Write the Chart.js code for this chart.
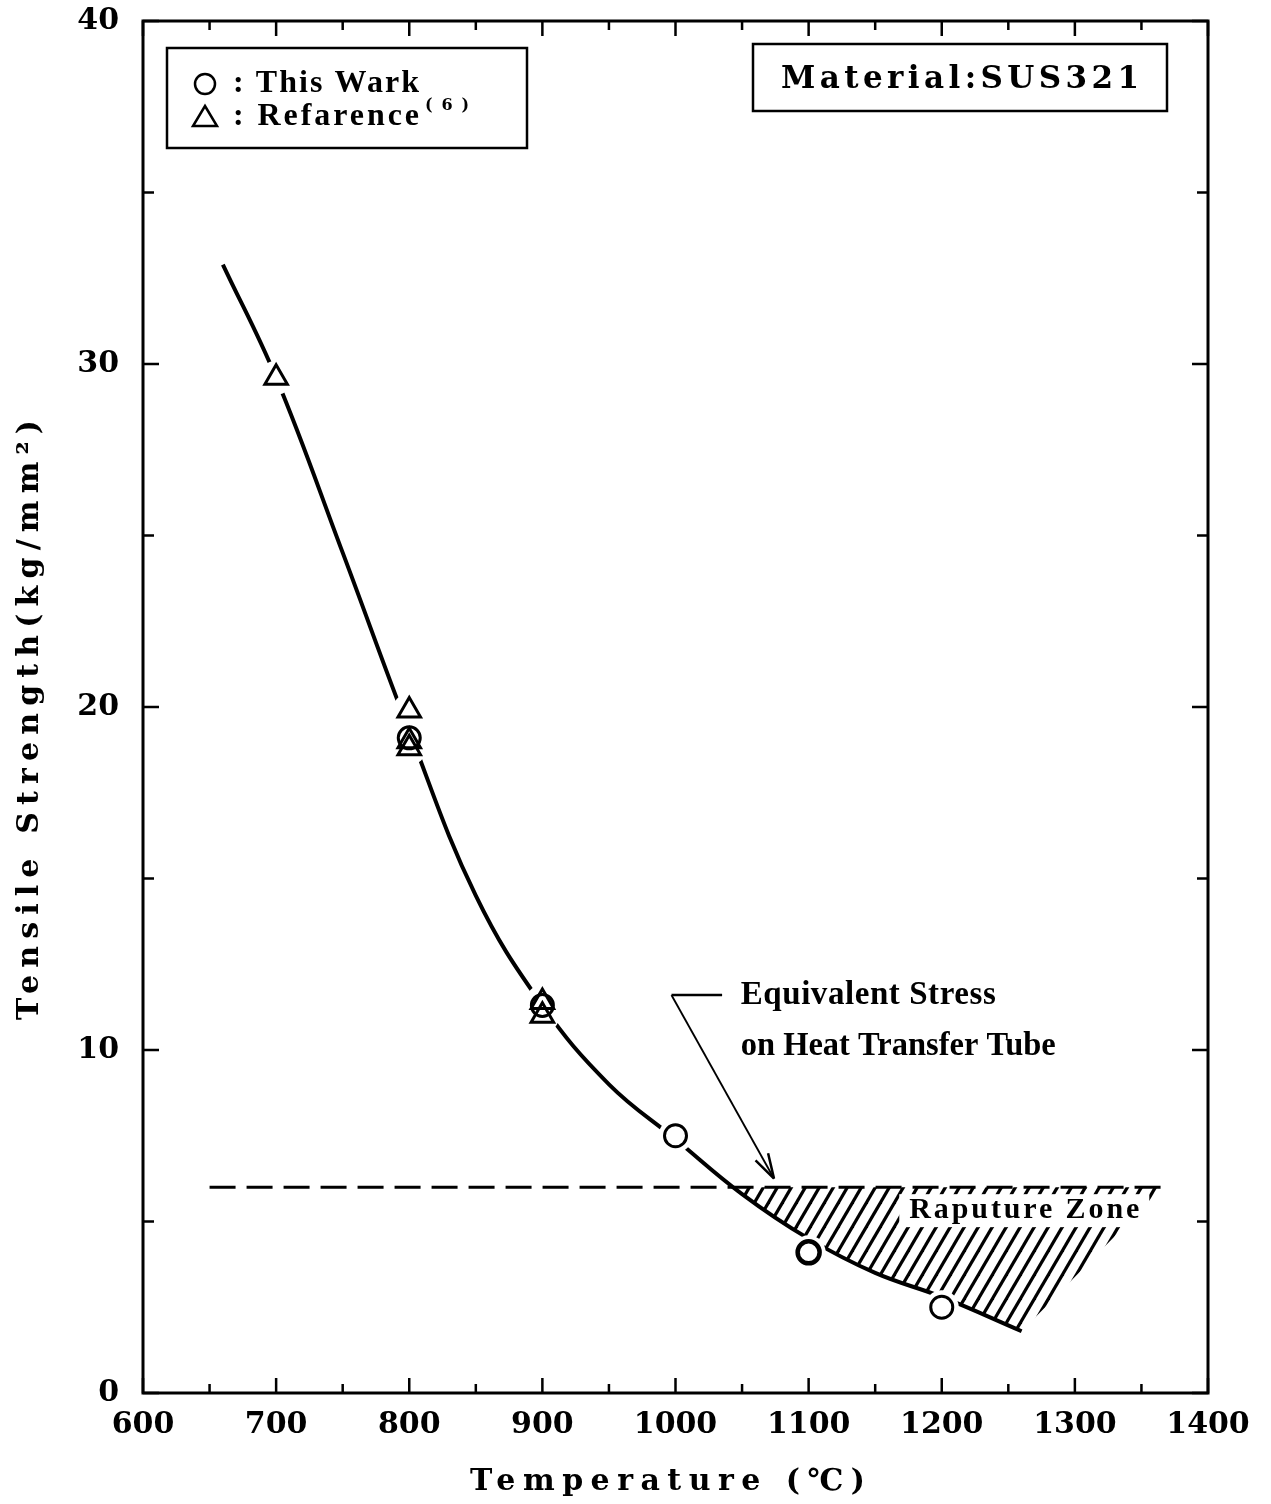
<!DOCTYPE html>
<html><head><meta charset="utf-8">
<script src="https://cdn.jsdelivr.net/npm/chart.js@4.4.1/dist/chart.umd.min.js"></script>
<style>html,body{margin:0;padding:0;background:#fff;}#wrap{width:1271px;height:1504px;}</style>
</head><body><div id="wrap"><canvas id="c" width="1271" height="1504"></canvas></div>
<script>
// ---- data ----
const thisWorkT = [800, 900, 1000, 1100, 1200];
const thisWorkS = [19.1, 11.3, 7.5, 4.1, 2.5];
const refT = [700, 800, 800, 800, 900, 900];
const refS = [29.6, 19.9, 19.0, 18.8, 11.4, 11.0];
const curveT = [660, 700, 750, 800, 850, 900, 950, 1000, 1050, 1100, 1150, 1200, 1260];
const curveS = [32.9, 29.6, 24.5, 19.3, 14.5, 11.3, 9.0, 7.4, 5.8, 4.5, 3.5, 2.8, 1.8];
const stressT = [650, 1366];
const stressS = [6.0, 6.0];
const zoneT = [1043, 1050, 1100, 1150, 1200, 1260, 1366, 1043];
const zoneS = [6.0, 5.8, 4.5, 3.5, 2.8, 1.8, 6.0, 6.0];
const xTickValues = [600, 700, 800, 900, 1000, 1100, 1200, 1300, 1400];
const xTickLabels = ['600', '700', '800', '900', '1000', '1100', '1200', '1300', '1400'];
const yTickValues = [0, 10, 20, 30, 40];
const yTickLabels = ['0', '10', '20', '30', '40'];
const seriesNames = ['This Wark', 'Refarence'];
const legendSup = '(6)';
const materialText = 'Material:SUS321';
const xTitle = 'Temperature (℃)';
const yTitle = 'Tensile Strength(kg/mm²)';
const noteLines = ['Equivalent Stress', 'on Heat Transfer Tube'];
const zoneLabel = 'Raputure Zone';
// annotation anchors (data units)
const leaderT = [1035, 997, 1074];
const leaderS = [11.6, 11.6, 6.25];
const noteT = [1049, 1049];
const noteS = [11.6, 10.1];
const zoneLabelT = 1262;
const zoneLabelS = 5.33;

const pts = (xs, ys) => xs.map((x, i) => ({x: x, y: ys[i]}));

function makeHatch() {
  const w = 14, h = 24;
  const c = document.createElement('canvas');
  c.width = w; c.height = h;
  const g = c.getContext('2d');
  g.strokeStyle = '#000'; g.lineWidth = 3.2; g.lineCap = 'butt';
  for (const dx of [-w, 0, w]) {
    g.beginPath();
    g.moveTo(dx - w, 2 * h); g.lineTo(dx + 2 * w, -h);
    g.stroke();
  }
  return document.getElementById('c').getContext('2d').createPattern(c, 'repeat');
}

function fitText(ctx, text, x, y, width, font, align) {
  ctx.save();
  ctx.font = font;
  ctx.textBaseline = 'middle';
  ctx.textAlign = 'left';
  const hasLS = ('letterSpacing' in ctx);
  if (hasLS) ctx.letterSpacing = '0px';
  const chars = [...text];
  const w = ctx.measureText(text).width;
  const ls = (width - w) / Math.max(1, chars.length - 1);
  const left = align === 'center' ? x - width / 2 : x;
  if (ls < 0) {
    ctx.fillText(text, left, y, width);
  } else if (hasLS) {
    ctx.letterSpacing = ls + 'px';
    ctx.fillText(text, left, y);
  } else {
    let cx = left;
    for (const ch of chars) { ctx.fillText(ch, cx, y); cx += ctx.measureText(ch).width + ls; }
  }
  ctx.restore();
}

const decor = {
  id: 'decor',
  afterDatasetsDraw(chart) {
    const ctx = chart.ctx, a = chart.chartArea, xs = chart.scales.x, ys = chart.scales.y;
    ctx.save();
    ctx.strokeStyle = '#000'; ctx.fillStyle = '#000'; ctx.lineCap = 'butt';
    // frame
    ctx.lineWidth = 3;
    ctx.strokeRect(a.left, a.top, a.right - a.left, a.bottom - a.top);
    // inward ticks
    ctx.lineWidth = 2.5;
    for (let t = xs.min; t <= xs.max; t += 50) {
      const px = xs.getPixelForValue(t);
      const len = (t % 100 === 0) ? 15 : 9;
      ctx.beginPath();
      ctx.moveTo(px, a.bottom); ctx.lineTo(px, a.bottom - len);
      ctx.moveTo(px, a.top); ctx.lineTo(px, a.top + len);
      ctx.stroke();
    }
    for (let v = ys.min; v <= ys.max; v += 5) {
      const py = ys.getPixelForValue(v);
      const len = (v % 10 === 0) ? 16 : 11;
      ctx.beginPath();
      ctx.moveTo(a.left, py); ctx.lineTo(a.left + len, py);
      ctx.moveTo(a.right, py); ctx.lineTo(a.right - len, py);
      ctx.stroke();
    }
    // legend box
    const lx = a.left + 24, ly = a.top + 27, lw = 360, lh = 100;
    ctx.fillStyle = '#fff';
    ctx.fillRect(lx, ly, lw, lh);
    ctx.fillStyle = '#000';
    ctx.lineWidth = 2.5;
    ctx.strokeRect(lx, ly, lw, lh);
    ctx.lineWidth = 2.5;
    ctx.beginPath(); ctx.arc(lx + 38, ly + 36, 10, 0, Math.PI * 2); ctx.stroke();
    ctx.beginPath();
    ctx.moveTo(lx + 38, ly + 58); ctx.lineTo(lx + 50, ly + 78); ctx.lineTo(lx + 26, ly + 78); ctx.closePath(); ctx.stroke();
    const lf = 'bold 32px "Liberation Serif"';
    fitText(ctx, ': ' + seriesNames[0], lx + 66, ly + 36, 186, lf, 'left');
    fitText(ctx, ': ' + seriesNames[1], lx + 66, ly + 69, 186, lf, 'left');
    fitText(ctx, legendSup, lx + 258, ly + 58, 44, 'bold 16px "DejaVu Serif"', 'left');
    // material box
    const mx = a.left + 610, my = a.top + 23, mw = 414, mh = 67;
    ctx.lineWidth = 2.5;
    ctx.strokeRect(mx, my, mw, mh);
    fitText(ctx, materialText, mx + 28, my + 36, 358, 'bold 31px "DejaVu Serif"', 'left');
    // leader + arrow
    const p = leaderT.map((t, i) => [xs.getPixelForValue(t), ys.getPixelForValue(leaderS[i])]);
    ctx.lineWidth = 2.5;
    ctx.beginPath();
    ctx.moveTo(p[0][0], p[0][1]); ctx.lineTo(p[1][0], p[1][1]);
    ctx.stroke();
    ctx.lineWidth = 2;
    ctx.beginPath();
    ctx.moveTo(p[1][0], p[1][1]); ctx.lineTo(p[2][0], p[2][1]);
    ctx.stroke();
    const ang = Math.atan2(p[2][1] - p[1][1], p[2][0] - p[1][0]);
    ctx.beginPath();
    for (const s of [-0.28, 0.28]) {
      ctx.moveTo(p[2][0], p[2][1]);
      ctx.lineTo(p[2][0] - 26 * Math.cos(ang + s), p[2][1] - 26 * Math.sin(ang + s));
    }
    ctx.lineWidth = 2.5;
    ctx.stroke();
    // notes
    const nf = 'bold 33px "Liberation Serif"';
    fitText(ctx, noteLines[0], xs.getPixelForValue(noteT[0]), ys.getPixelForValue(noteS[0]), 255, nf, 'left');
    fitText(ctx, noteLines[1], xs.getPixelForValue(noteT[1]), ys.getPixelForValue(noteS[1]), 315, nf, 'left');
    // zone label with white band
    const zx = xs.getPixelForValue(zoneLabelT), zy = ys.getPixelForValue(zoneLabelS);
    ctx.fillStyle = '#fff';
    ctx.fillRect(zx - 125, zy - 16, 250, 33);
    ctx.fillStyle = '#000';
    fitText(ctx, zoneLabel, zx, zy, 230, 'bold 30px "Liberation Serif"', 'center');
    // axis titles
    fitText(ctx, xTitle, (a.left + a.right) / 2 - 8, 1482, 395, 'bold 30px "DejaVu Serif"', 'center');
    ctx.save();
    ctx.translate(30, 720);
    ctx.rotate(-Math.PI / 2);
    fitText(ctx, yTitle, 0, 0, 600, 'bold 30px "DejaVu Serif"', 'center');
    ctx.restore();
    ctx.restore();
  }
};

const haloT = thisWorkT.concat(refT);
const haloS = thisWorkS.concat(refS);

new Chart(document.getElementById('c'), {
  type: 'scatter',
  data: {
    datasets: [
      { label: seriesNames[0], data: pts(thisWorkT, thisWorkS), pointStyle: 'circle', pointRadius: 11,
        pointBorderWidth: [3, 3, 3, 4.5, 3], pointBorderColor: '#000', pointBackgroundColor: 'rgba(0,0,0,0)', showLine: false, order: 0 },
      { label: seriesNames[1], data: pts(refT, refS), pointStyle: 'triangle', pointRadius: 13,
        pointBorderWidth: 3, pointBorderColor: '#000', pointBackgroundColor: 'rgba(0,0,0,0)', showLine: false, order: 1 },
      { label: 'halo', data: pts(haloT, haloS), pointStyle: 'circle', pointRadius: 17, pointBorderWidth: 0,
        pointBackgroundColor: '#fff', pointBorderColor: '#fff', showLine: false, order: 2 },
      { label: 'curve', data: pts(curveT, curveS), showLine: true, borderColor: '#000', borderWidth: 4,
        pointRadius: 0, tension: 0.4, fill: false, order: 3 },
      { label: 'stress', data: pts(stressT, stressS), showLine: true, borderColor: '#000', borderWidth: 3,
        borderDash: [26, 11], pointRadius: 0, fill: false, order: 4 },
      { label: 'zone', data: pts(zoneT, zoneS), showLine: true, borderWidth: 0, borderColor: 'rgba(0,0,0,0)',
        backgroundColor: makeHatch(), fill: 'shape', pointRadius: 0, tension: 0, order: 5 }
    ]
  },
  options: {
    responsive: false, animation: false, devicePixelRatio: 1,
    layout: { padding: { top: 21, right: 63, left: 0, bottom: 0 } },
    plugins: { legend: { display: false }, tooltip: { enabled: false } },
    scales: {
      x: {
        type: 'linear', min: 600, max: 1400,
        afterBuildTicks: s => { s.ticks = xTickValues.map(v => ({value: v})); },
        afterFit: s => { s.height = 111; s.paddingLeft = 0; s.paddingRight = 0; },
        grid: { display: false, drawTicks: false }, border: { display: false },
        ticks: { color: '#000', padding: 14, maxRotation: 0, autoSkip: false,
          font: { family: 'DejaVu Serif', weight: 'bold', size: 30 },
          callback: v => xTickLabels[xTickValues.indexOf(v)] }
      },
      y: {
        min: 0, max: 40,
        afterBuildTicks: s => { s.ticks = yTickValues.map(v => ({value: v})); },
        afterFit: s => { s.width = 143; s.paddingTop = 0; s.paddingBottom = 0; },
        grid: { display: false, drawTicks: false }, border: { display: false },
        ticks: { color: '#000', padding: 24, autoSkip: false,
          font: { family: 'DejaVu Serif', weight: 'bold', size: 30 },
          callback: v => yTickLabels[yTickValues.indexOf(v)] }
      }
    }
  },
  plugins: [decor]
});
</script>
</body></html>
